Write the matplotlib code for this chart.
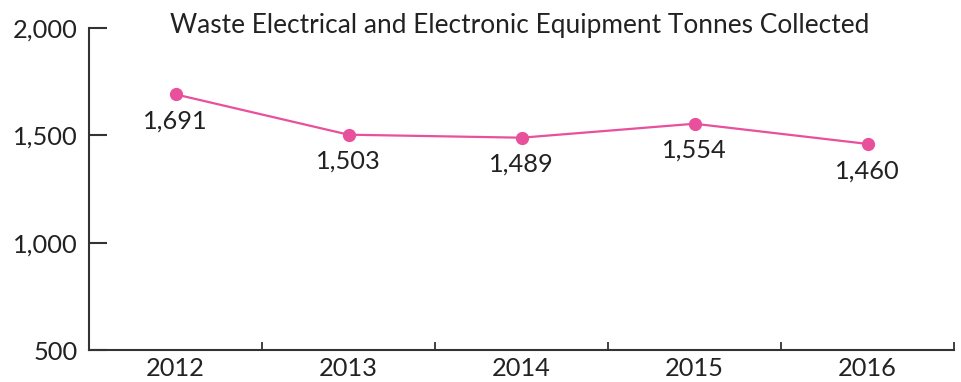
import matplotlib.pyplot as plt

years = ["2012", "2013", "2014", "2015", "2016"]
tonnes = [1691, 1503, 1489, 1554, 1460]
y_ticks = [500, 1000, 1500, 2000]

plt.rcParams['font.family'] = ['Lato', 'DejaVu Sans']

fig = plt.figure(figsize=(9.61, 3.82), dpi=100)
ax = fig.add_axes([89 / 961, 1 - 350 / 382, 865 / 961, 322 / 382])

x = range(len(years))
ax.plot(x, tonnes, color='#e8509b', linewidth=1.6, marker='o', markersize=8.5)
for xi, v in zip(x, tonnes):
    ax.annotate(f"{v:,}", (xi, v), xytext=(0, -11), textcoords='offset points',
                ha='center', va='top', fontsize=18.3, color='#222222')

ax.set_xlim(-0.5, len(years) - 0.5)
ax.set_ylim(500, 2000)

# category labels sit between the boundary ticks
ax.set_xticks([i + 0.5 for i in range(len(years))])
ax.set_xticklabels([])
ax.set_xticks(list(x), minor=True)
ax.set_xticklabels(years, minor=True, fontsize=18.3, color='#222222')
ax.tick_params(axis='x', which='major', direction='in', length=6, width=1.3, color='#333333')
ax.tick_params(axis='x', which='minor', length=0, pad=5)

ax.set_yticks(y_ticks)
ax.set_yticklabels([f"{v:,}" for v in y_ticks], fontsize=18.3, color='#222222')
ax.tick_params(axis='y', direction='in', length=13, width=1.5, color='#333333', pad=8)

for side in ['top', 'right']:
    ax.spines[side].set_visible(False)
for side in ['left', 'bottom']:
    ax.spines[side].set_color('#333333')
    ax.spines[side].set_linewidth(1.5)

fig.text(520 / 961, 1 - 26 / 382, "Waste Electrical and Electronic Equipment Tonnes Collected",
         ha='center', va='center', fontsize=18.9, color='#222222')

fig.savefig('out.png', dpi=100)
